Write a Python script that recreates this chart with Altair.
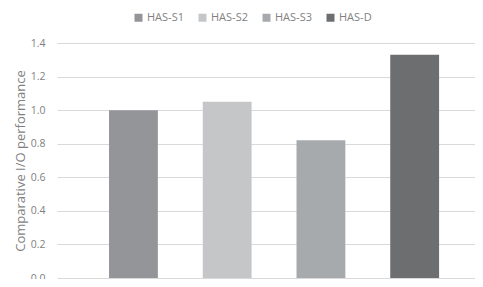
import altair as alt
import pandas as pd

series = ["HAS-S1", "HAS-S2", "HAS-S3", "HAS-D"]
values = [1.0, 1.05, 0.82, 1.33]
colors = ["#939598", "#c5c6c8", "#a7aaad", "#6d6e70"]
y_ticks = [0.0, 0.2, 0.4, 0.6, 0.8, 1.0, 1.2, 1.4]

df = pd.DataFrame({"series": series, "value": values})

font = "Open Sans"
text_color = "#7f7f7f"

chart = alt.Chart(df).mark_bar().encode(
    x=alt.X("series:N", sort=series, axis=None,
            scale=alt.Scale(paddingInner=0.479, paddingOuter=0.469, align=0.5916)),
    y=alt.Y("value:Q",
            scale=alt.Scale(domain=[0, 1.4], nice=False),
            axis=alt.Axis(values=y_ticks, format=".1f", title="Comparative I/O performance",
                          domain=False, ticks=False, labelPadding=12,
                          labelFont=font, labelFontSize=10.5, labelColor=text_color,
                          titleFont=font, titleFontSize=13, titleColor=text_color,
                          titleFontWeight="normal", titlePadding=3,
                          gridColor="#d9d9d9", gridWidth=1)),
    color=alt.Color("series:N", sort=series,
                    scale=alt.Scale(domain=series, range=colors),
                    legend=alt.Legend(title=None, orient="none", legendX=76, legendY=-31,
                                      direction="horizontal", columns=4,
                                      symbolType="square", symbolSize=64,
                                      symbolStrokeWidth=0, symbolOpacity=1,
                                      labelFont=font, labelFontSize=11,
                                      labelColor=text_color, labelOffset=3,
                                      columnPadding=13)),
).properties(
    width=418, height=235,
    autosize="none",
    padding={"left": 49, "top": 35, "right": 0, "bottom": 1},
).configure_view(stroke=None)

chart.save("out.html", embed_options={"renderer": "svg", "actions": False})
